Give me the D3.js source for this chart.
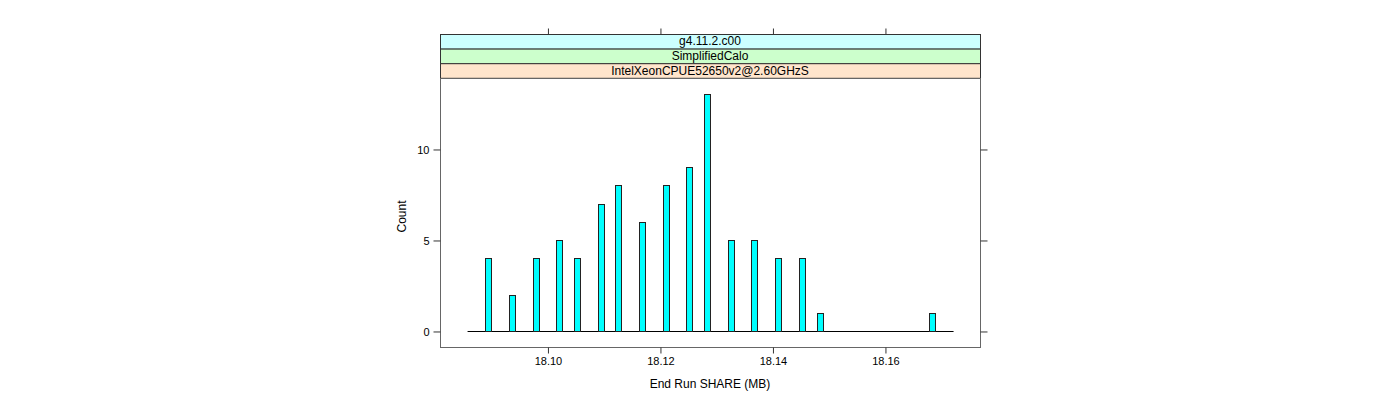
<!DOCTYPE html>
<html><head><meta charset="utf-8">
<script src="https://cdn.jsdelivr.net/npm/d3@7"></script>
<style>body{margin:0;background:#fff}svg{display:block}text{font-family:"Liberation Sans",Arial,sans-serif}</style>
</head><body>
<svg id="c" width="1400" height="400"></svg>
<script>
const binCenters = [18.0895,18.0937,18.0979,18.1021,18.1052,18.1095,18.1126,18.1168,18.1211,18.1252,18.1284,18.1326,18.1368,18.1410,18.1453,18.1484,18.1684];
const counts = [4,2,4,5,4,7,8,6,8,9,13,5,5,4,4,1,1];
const xTicks = [18.10,18.12,18.14,18.16];
const yTicks = [0,5,10];
const strips = ["g4.11.2.c00","SimplifiedCalo","IntelXeonCPUE52650v2@2.60GHzS"];
const stripColors = ["#CCFFFF","#CCFFCC","#FFE5CC"];
const barWidth = 0.00107;
const baseRange = [18.0858,18.1722];

(function(){
const svg = d3.select("#c");
const L=440,R=980,T=34,stripH=14.6,PT=78,PB=347;
const x = d3.scaleLinear().domain([18.0809,18.1769]).range([L,R]);
const y = d3.scaleLinear().domain([-0.88,13.9]).range([PB,PT]);

strips.forEach((s,i)=>{
  const yy=T+i*stripH;
  svg.append("rect").attr("x",L+0.5).attr("y",yy+0.5).attr("width",R-L).attr("height",stripH)
    .attr("fill",stripColors[i]).attr("stroke","#333").attr("stroke-width",1);
  svg.append("text").attr("x",(L+R)/2).attr("y",yy+stripH/2+4).attr("text-anchor","middle")
    .attr("font-size",12).attr("fill","#000").text(s);
});
svg.append("rect").attr("x",L+0.5).attr("y",PT+0.5).attr("width",R-L).attr("height",PB-PT)
  .attr("fill","none").attr("stroke","#666").attr("stroke-width",1);

svg.append("line").attr("x1",x(baseRange[0])).attr("x2",x(baseRange[1]))
  .attr("y1",Math.round(y(0))+0.5).attr("y2",Math.round(y(0))+0.5).attr("stroke","#000");

svg.selectAll("rect.bar").data(binCenters).enter().append("rect").attr("class","bar")
  .attr("x",d=>Math.round(x(d-barWidth/2))+0.5)
  .attr("width",d=>Math.round(x(d+barWidth/2)-x(d-barWidth/2)))
  .attr("y",(d,i)=>Math.round(y(counts[i]))+0.5)
  .attr("height",(d,i)=>Math.round(y(0))-Math.round(y(counts[i])))
  .attr("fill","#00FFFF").attr("stroke","#222").attr("stroke-width",1);

const axB = d3.axisBottom(x).tickValues(xTicks).tickFormat(d3.format(".2f")).tickSizeOuter(0).tickSize(6).tickPadding(4);
const gb = svg.append("g").attr("transform",`translate(0.5,${PB+0.5})`).call(axB);
const axT = d3.axisTop(x).tickValues(xTicks).tickFormat("").tickSizeOuter(0).tickSize(6);
const gt = svg.append("g").attr("transform",`translate(0.5,${T+0.5})`).call(axT);
const axL = d3.axisLeft(y).tickValues(yTicks).tickSizeOuter(0).tickSize(7).tickPadding(4);
const gl = svg.append("g").attr("transform",`translate(${L+0.5},0.5)`).call(axL);
const axR = d3.axisRight(y).tickValues(yTicks).tickFormat("").tickSizeOuter(0).tickSize(7);
const gr = svg.append("g").attr("transform",`translate(${R+0.5},0.5)`).call(axR);
[gb,gt,gl,gr].forEach(g=>{
  g.select(".domain").remove();
  g.selectAll("line").attr("stroke","#333");
  g.selectAll("text").attr("font-size",11).attr("fill","#000").style("font-family","Liberation Sans, Arial, sans-serif");
});

svg.append("text").attr("x",(L+R)/2).attr("y",388).attr("text-anchor","middle").attr("font-size",12).text("End Run SHARE (MB)");
svg.append("text").attr("transform",`translate(406,${(PT+PB)/2+4}) rotate(-90)`).attr("text-anchor","middle").attr("font-size",12).text("Count");
})();
</script>
</body></html>
